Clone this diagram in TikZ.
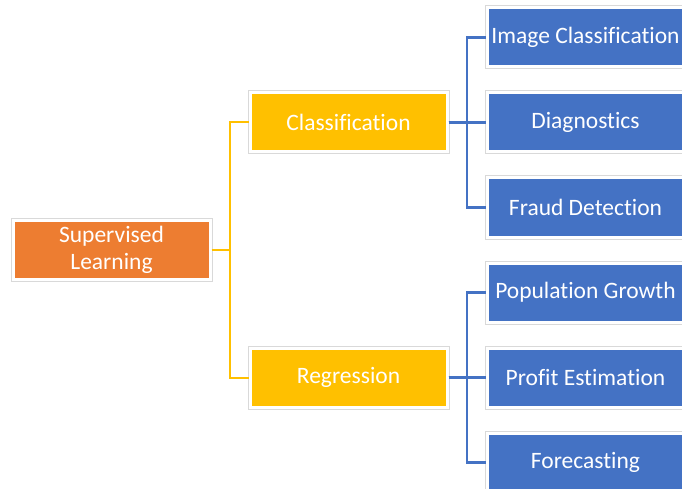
\documentclass[tikz,border=0pt]{standalone}
\usepackage{fontspec}
\setmainfont[Ligatures={NoCommon}]{Carlito}
\definecolor{rootorange}{HTML}{ED7D31}
\definecolor{midyellow}{HTML}{FFC000}
\definecolor{leafblue}{HTML}{4472C4}
\begin{document}
\begin{tikzpicture}[
                x=1pt, y=1pt,
                grow=right,
                box/.style={rectangle, minimum width=197pt, minimum height=59pt,
                    text=white, align=center, draw=white, line width=3pt,
                    font=\fontsize{23.5pt}{27pt}\selectfont,
                    preaction={draw=gray!30, line width=5pt}},
                root/.style={box, fill=rootorange},
                topic/.style={box, fill=midyellow},
                task/.style={box, fill=leafblue},
                edge from parent path={(\tikzparentnode.east) -- ++(18.5pt,0)
                    |- (\tikzchildnode.west)}
            ]
            \tikzstyle{level 1}=[level distance=237pt, sibling distance=255pt,
                edge from parent/.style={draw=midyellow, line width=2pt}]
            \tikzstyle{level 2}=[level distance=237pt, sibling distance=85pt,
                edge from parent/.style={draw=leafblue, line width=2.5pt}]

            \useasboundingbox (0,0) rectangle (682,488);

            \node[root] (learn) at (111.5,238) {Supervised\\Learning}
            child {
            node[topic] (regr) {Regression}
            child {node[task] (forecast) {Forecasting}}
            child {node[task] (profit) {Profit Estimation}}
            child {node[task] (growth) {Population Growth}}
            }
            child {
            node[topic] (classif) {Classification}
            child {node[task] (fraud) {Fraud Detection}}
            child {node[task] (diag) {Diagnostics}}
            child {node[task] (image) {Image Classification}}
            };
        \end{tikzpicture}
\end{document}
